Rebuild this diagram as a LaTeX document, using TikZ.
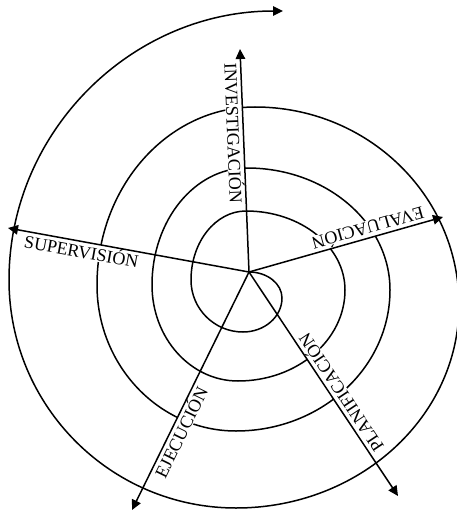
\documentclass[tikz,border=0pt]{standalone}
\usepackage{fontspec}
\setmainfont{Liberation Serif}
\usetikzlibrary{arrows.meta}
\begin{document}
\begin{tikzpicture}[x=1pt,y=-1pt,
  arr/.style={line width=1.5pt,-{Triangle[length=10pt,width=9.5pt]}},
  lbl/.style={fill=white,inner sep=0.6pt,anchor=north,font=\fontsize{18}{20}\selectfont}]
\useasboundingbox (0,0) rectangle (457,516);
\coordinate (O) at (249,272);
\coordinate (tI) at (240,49);
\coordinate (tE) at (443,217);
\coordinate (tP) at (398,496);
\coordinate (tJ) at (132,510);
\coordinate (tS) at (8,228);
% spiral
\draw[arr] (O)
 arc[start angle=-90,end angle=0,x radius=33,y radius=26]
 arc[start angle=0,end angle=90,x radius=39,y radius=34]
 arc[start angle=90,end angle=180,x radius=52,y radius=52]
 arc[start angle=180,end angle=270,x radius=55,y radius=69]
 arc[start angle=270,end angle=360,x radius=99,y radius=79]
 arc[start angle=0,end angle=90,x radius=107,y radius=91]
 arc[start angle=90,end angle=180,x radius=86,y radius=96]
 arc[start angle=180,end angle=270,x radius=95,y radius=117]
 arc[start angle=270,end angle=360,x radius=143,y radius=122]
 arc[start angle=0,end angle=90,x radius=154,y radius=141]
 arc[start angle=90,end angle=180,x radius=139,y radius=146]
 arc[start angle=180,end angle=270,x radius=158,y radius=178]
 arc[start angle=270,end angle=360,x radius=204,y radius=198]
 arc[start angle=0,end angle=90,x radius=223,y radius=203]
 arc[start angle=90,end angle=180,x radius=227,y radius=228]
 arc[start angle=180,end angle=270,x radius=274,y radius=269];
% label anchors
\path (O) -- (tI) coordinate[pos=0.625] (pI);
\path (O) -- (tE) coordinate[pos=0.627] (pE);
\path (O) -- (tP) coordinate[pos=0.563] (pP);
\path (O) -- (tJ) coordinate[pos=0.655] (pJ);
\path (O) -- (tS) coordinate[pos=0.688] (pS);
\node[lbl,rotate=-87.7] (lI) at (pI) {INVESTIGACIÓN};
\node[lbl,rotate=195.8] (lE) at (pE) {EVALUACIÓN};
\node[lbl,rotate=123.6] (lP) at (pP) {PLANIFICACIÓN};
\node[lbl,rotate=63.8] (lJ) at (pJ) {EJECUCIÓN};
\node[lbl,rotate=-10.3] (lS) at (pS) {SUPERVISIÓN};
% rays
\draw[arr] (O) -- (tI);
\draw[arr] (O) -- (tE);
\draw[arr] (O) -- (tP);
\draw[arr] (O) -- (tJ);
\draw[arr] (O) -- (tS);
\end{tikzpicture}
\end{document}
